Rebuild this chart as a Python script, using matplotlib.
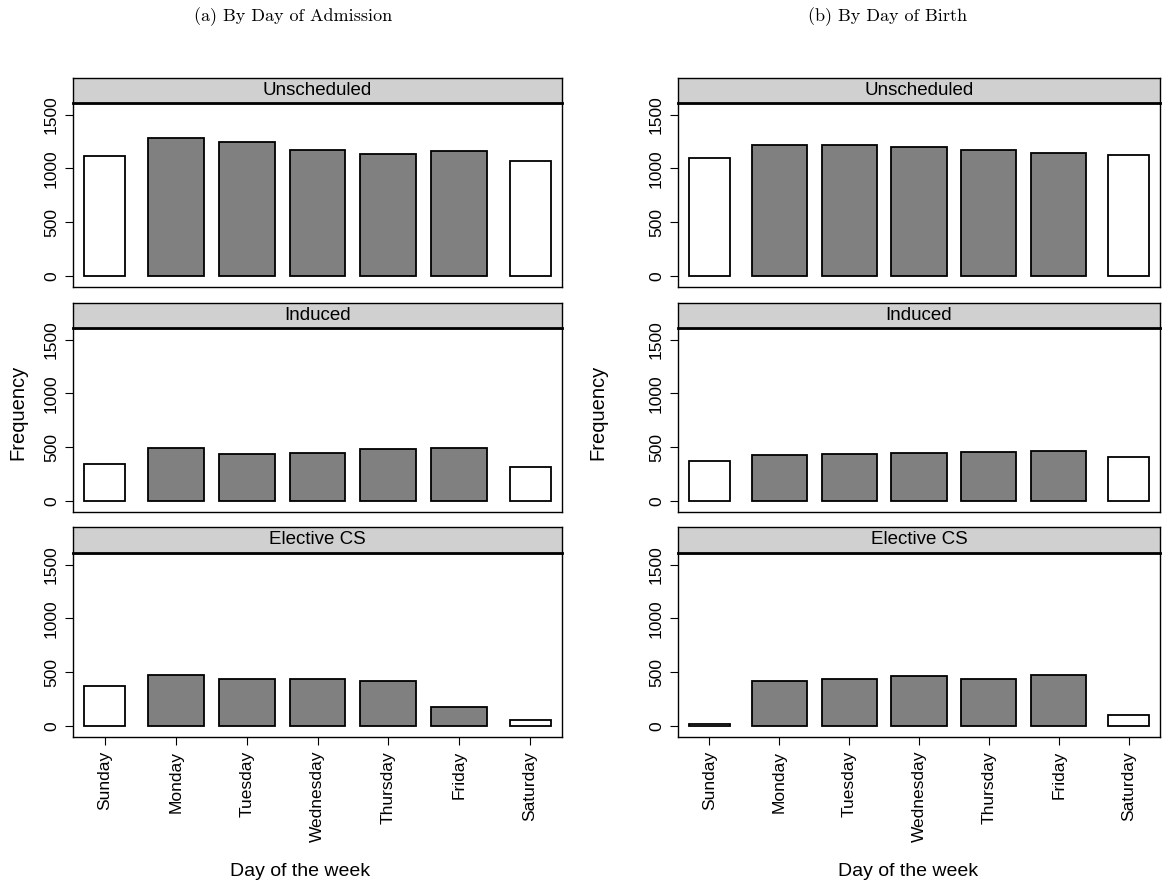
import numpy as np
import matplotlib
matplotlib.use("Agg")
import matplotlib.pyplot as plt

plt.rcParams['font.family'] = ['Liberation Sans', 'DejaVu Sans']

days = ["Sunday", "Monday", "Tuesday", "Wednesday", "Thursday", "Friday", "Saturday"]
facets = ["Unscheduled", "Induced", "Elective CS"]

# (a) by day of admission
adm_unscheduled = [1115, 1280, 1242, 1174, 1137, 1165, 1065]
adm_induced = [347, 496, 437, 443, 480, 487, 319]
adm_elective = [370, 469, 438, 438, 413, 171, 56]

# (b) by day of birth
birth_unscheduled = [1096, 1217, 1217, 1196, 1174, 1140, 1127]
birth_induced = [366, 425, 440, 449, 456, 459, 412]
birth_elective = [19, 419, 438, 463, 438, 472, 96]

W, H = 1172, 886
fig = plt.figure(figsize=(W / 100, H / 100), dpi=100)

panels = [
    ("(a) By Day of Admission", [adm_unscheduled, adm_induced, adm_elective], 73, 562, 293, 300, 18),
    ("(b) By Day of Birth", [birth_unscheduled, birth_induced, birth_elective], 678, 1160, 888, 908, 598),
]
# strip top, box top, box bottom (pixels)
rows = [(78, 103, 287), (303, 328, 512), (527, 553, 737)]

x = np.arange(len(days))
weekend = np.array([d in ("Sunday", "Saturday") for d in days])
colors = np.where(weekend, "white", "#808080")
widths = np.where(weekend, 0.58, 0.79)

for title, series, x0, x1, tx, lx, fx in panels:
    for i, (vals, name) in enumerate(zip(series, facets)):
        st, bt, bb = rows[i]
        ax = fig.add_axes([x0 / W, 1 - bb / H, (x1 - x0) / W, (bb - bt) / H])
        ax.bar(x, vals, width=widths, color=colors, edgecolor="black", linewidth=1.3)
        ax.set_xlim(-0.45, 6.45)
        ax.set_ylim(-105, 1610)
        ax.set_yticks([0, 500, 1000, 1500])
        ax.set_yticklabels(["0", "500", "1000", "1500"], rotation=90, va="center", fontsize=12.5)
        ax.tick_params(axis="y", direction="out", length=6, width=0.8, pad=4)
        for s in ax.spines.values():
            s.set_linewidth(1.0)
        if i == 2:
            ax.set_xticks(x)
            ax.set_xticklabels(days, rotation=90, fontsize=12.5)
            ax.tick_params(axis="x", direction="out", length=6, width=0.8, pad=4)
        else:
            ax.set_xticks([])

        sax = fig.add_axes([x0 / W, 1 - bt / H, (x1 - x0) / W, (bt - st) / H])
        sax.set_facecolor("#d0d0d0")
        sax.set_xticks([])
        sax.set_yticks([])
        for s in sax.spines.values():
            s.set_linewidth(1.0)
        sax.spines["bottom"].set_linewidth(2.0)
        sax.text(0.5, 0.5, name, ha="center", va="center", fontsize=13.5, transform=sax.transAxes)

    fig.text(tx / W, 1 - 17 / H, title, ha="center", va="center", family="cmr10", fontsize=13)
    fig.text(lx / W, 1 - 872 / H, "Day of the week", ha="center", va="center", fontsize=14)
    fig.text(fx / W, 1 - 412 / H, "Frequency", ha="center", va="center", rotation=90, fontsize=14.5)

fig.savefig("out.png", dpi=100)
